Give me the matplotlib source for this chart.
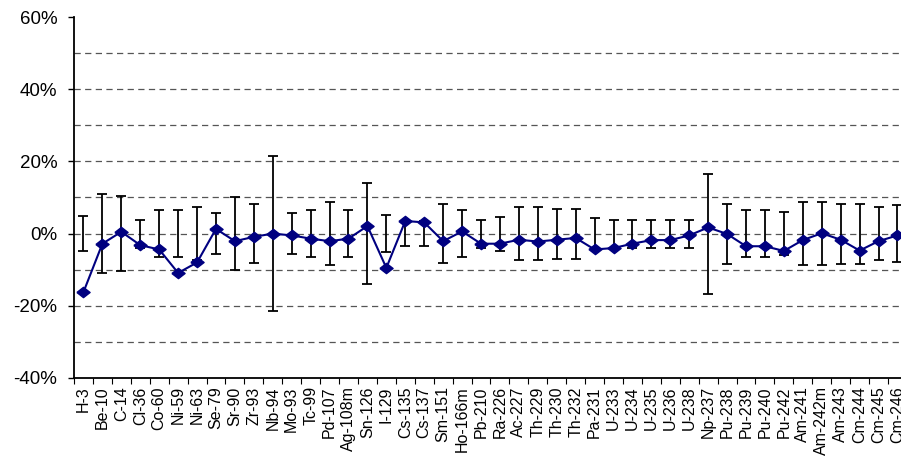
import matplotlib
matplotlib.use("Agg")
import matplotlib.pyplot as plt
import numpy as np

# ── Data ─────────────────────────────────────────────────────────────────
nuclides = [
    "H-3", "Be-10", "C-14", "Cl-36", "Co-60", "Ni-59", "Ni-63", "Se-79",
    "Sr-90", "Zr-93", "Nb-94", "Mo-93", "Tc-99", "Pd-107", "Ag-108m",
    "Sn-126", "I-129", "Cs-135", "Cs-137", "Sm-151", "Ho-166m", "Pb-210",
    "Ra-226", "Ac-227", "Th-229", "Th-230", "Th-232", "Pa-231", "U-233",
    "U-234", "U-235", "U-236", "U-238", "Np-237", "Pu-238", "Pu-239",
    "Pu-240", "Pu-242", "Am-241", "Am-242m", "Am-243", "Cm-244", "Cm-245",
    "Cm-246",
]

# relative deviation (%)
deviation = [
    -16.2, -2.8, 0.5, -3.2, -4.4, -10.9, -8.0, 1.3,
    -2.1, -0.9, 0.0, -0.5, -1.4, -2.1, -1.4,
    2.1, -9.5, 3.5, 3.1, -2.1, 0.6, -2.8,
    -2.8, -1.7, -2.2, -1.7, -1.2, -4.4, -4.0,
    -2.8, -1.8, -1.8, -0.5, 1.7, -0.1, -3.5,
    -3.5, -4.8, -1.8, 0.1, -1.7, -4.7, -2.1,
    -0.5,
]

# uncertainty band (± %), centred on zero
uncertainty = [
    4.8, 11.0, 10.4, 3.9, 6.5, 6.5, 7.4, 5.6,
    10.1, 8.2, 21.4, 5.6, 6.5, 8.7, 6.5,
    14.0, 5.2, 3.5, 3.5, 8.2, 6.5, 3.9,
    4.7, 7.3, 7.3, 6.9, 6.9, 4.4, 3.9,
    3.9, 3.9, 3.9, 3.9, 16.6, 8.3, 6.5,
    6.5, 6.0, 8.7, 8.7, 8.3, 8.3, 7.3,
    7.8,
]

NAVY = "#000080"
FONT = ["Liberation Sans", "DejaVu Sans"]

fig = plt.figure(figsize=(9.01, 4.59), dpi=100)
W, H = 901, 459
n = len(nuclides)
ax_left, ax_right = 74, 74 + n * 18.93
ax_top, ax_bot = 17, 378
ax = fig.add_axes([ax_left / W, 1 - ax_bot / H,
                   (ax_right - ax_left) / W, (ax_bot - ax_top) / H])

x = np.arange(n)
y = np.array(deviation) / 100
err = np.array(uncertainty) / 100

# dashed horizontal gridlines every 10 %
for g in np.arange(-0.3, 0.51, 0.1):
    ax.axhline(g, color="#555555", lw=0.9, ls=(0, (5, 3.5)), zorder=1)

ax.errorbar(x, np.zeros(n), yerr=err, fmt="none", ecolor="black",
            elinewidth=1.3, capsize=3.8, capthick=1.3, zorder=2)

diamond = [(-1, 0), (0, 0.78), (1, 0), (0, -0.78), (-1, 0)]
ax.plot(x, y, color=NAVY, lw=1.5, marker=diamond, markersize=9.5,
        markerfacecolor=NAVY, markeredgecolor=NAVY, zorder=3)

ax.set_xlim(-0.5, n - 0.5)
ax.set_ylim(-0.4, 0.6)
ax.set_yticks(np.arange(-0.4, 0.61, 0.2))
ax.set_yticklabels([f"{int(round(v * 100))}%" for v in np.arange(-0.4, 0.61, 0.2)],
                   fontsize=13.5, family=FONT)
ax.tick_params(axis="y", direction="out", length=4, width=1, pad=8)

ax.set_xticks(x)
ax.set_xticklabels(nuclides, rotation=90, fontsize=11.5, family=FONT)
ax.set_xticks(np.arange(-0.5, n, 1), minor=True)
ax.tick_params(axis="x", which="major", length=0, pad=6)
ax.tick_params(axis="x", which="minor", direction="out", length=4, width=0.8)

for s in ("top", "right"):
    ax.spines[s].set_visible(False)
for s in ("left", "bottom"):
    ax.spines[s].set_linewidth(1.3)
    ax.spines[s].set_color("black")

fig.savefig("out.png", dpi=100, facecolor="white")
